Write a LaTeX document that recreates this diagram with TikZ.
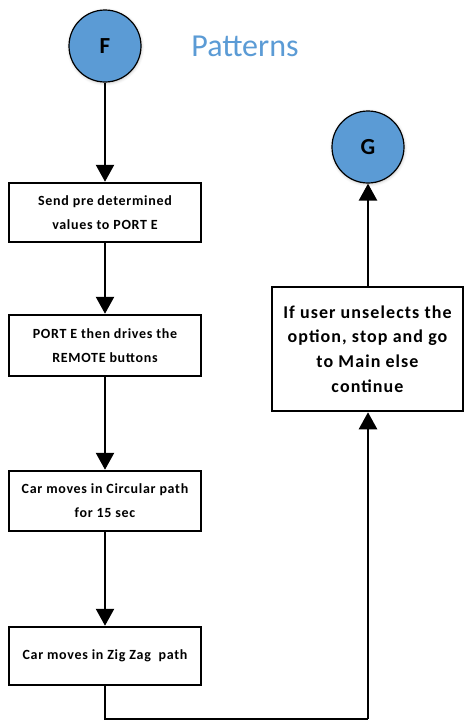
\documentclass[tikz,border=0pt]{standalone}
\usepackage{fontspec}
\setmainfont{Carlito}
\newfontfamily\boxfont[LetterSpace=5]{Carlito}
\newfontfamily\bigboxfont[LetterSpace=6]{Carlito}
\usetikzlibrary{arrows.meta,shadows.blur}
\definecolor{circblue}{RGB}{91,155,213}
\tikzset{
  x=1pt, y=1pt,
  conn/.style={line width=2.5pt, -{Triangle[width=18pt,length=17pt]}},
  plain/.style={line width=2.5pt},
  stepbox/.style={draw, line width=2.5pt, minimum width=192pt, align=center,
                  font=\boxfont\bfseries\fontsize{14}{24}\selectfont, inner sep=0pt},
  bigbox/.style={draw, line width=2.5pt, minimum width=191pt, align=center,
                  font=\bigboxfont\bfseries\fontsize{18}{24.8}\selectfont, inner sep=0pt},
  connector/.style={circle, draw, line width=1.2pt, fill=circblue, minimum size=72pt,
                    inner sep=0pt, font=\bfseries\fontsize{23}{26}\selectfont,
                    blur shadow={shadow xshift=0.5pt, shadow yshift=-1pt,
                                 shadow blur radius=3pt, shadow opacity=25}},
}
\begin{document}
\begin{tikzpicture}
\useasboundingbox (0,0) rectangle (464,-721);
% connectors (off-page references)
\node[connector] (F) at (105,-46) {F};
\node[connector] (G) at (368,-147) {G};
\node[text=circblue, font=\fontsize{32}{36}\selectfont] (title) at (245,-46) {Patterns};
% process steps
\node[stepbox, minimum height=59pt] (b1) at (105,-212.5) {Send pre determined\\values to PORT E};
\node[stepbox, minimum height=61pt] (b2) at (105,-345.5) {PORT E then drives the\\REMOTE buttons};
\node[stepbox, minimum height=60pt] (b3) at (105,-501) {Car moves in Circular path\\for 15 sec};
\node[stepbox, minimum height=58pt] (b4) at (105,-656) {Car moves in Zig Zag\ \ path};
\node[bigbox, minimum height=124pt] (b5) at (367.5,-349) {If user unselects the\\option, stop and go\\to Main else\\continue};
\coordinate (c1) at (105,-719);
\coordinate (c2) at (368,-719);
% flow
\draw[conn] (F) -- (b1);
\draw[conn] (b1) -- (b2);
\draw[conn] (b2) -- (b3);
\draw[conn] (b3) -- (b4);
\draw[plain] (b4.south) -- (c1) -- (c2);
\draw[conn] (c2) -- (c2 |- b5.south);
\draw[conn] (b5.north -| G) -- (G);
\end{tikzpicture}
\end{document}
